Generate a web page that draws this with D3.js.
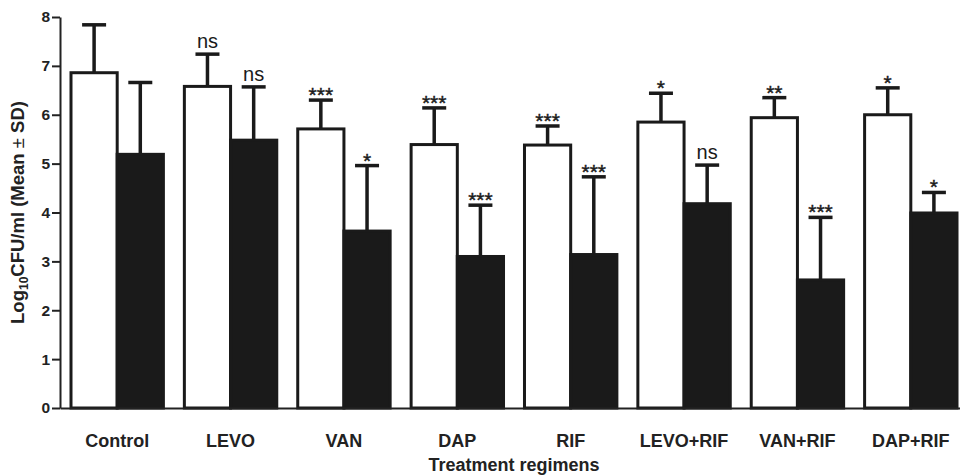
<!DOCTYPE html>
<html>
<head>
<meta charset="utf-8">
<script src="https://cdn.jsdelivr.net/npm/d3@7"></script>
<style>
  body { margin: 0; background: #fff; }
  svg { display: block; font-family: "Liberation Sans", Arial, sans-serif; }
</style>
</head>
<body>
<div id="chart"></div>
<script>
// data
const regimens = ["Control", "LEVO", "VAN", "DAP", "RIF", "LEVO+RIF", "VAN+RIF", "DAP+RIF"];
const openMean = [6.86, 6.58, 5.71, 5.39, 5.38, 5.85, 5.94, 6.00];
const openSD   = [0.98, 0.66, 0.59, 0.75, 0.39, 0.59, 0.41, 0.55];
const filledMean = [5.19, 5.48, 3.62, 3.10, 3.14, 4.18, 2.62, 3.99];
const filledSD   = [1.47, 1.09, 1.34, 1.05, 1.59, 0.79, 1.28, 0.42];
const openSig   = ["", "ns", "***", "***", "***", "*", "**", "*"];
const filledSig = ["", "ns", "*", "***", "***", "ns", "***", "*"];
const yTicks = [0, 1, 2, 3, 4, 5, 6, 7, 8];

const width = 960, height = 475;
const margin = { top: 17, right: -8, bottom: 67, left: 60 };
const ink = "#1a1a1a";

const svg = d3.select("#chart").append("svg")
  .attr("width", width)
  .attr("height", height);

const x = d3.scaleBand()
  .domain(regimens)
  .range([margin.left, width - margin.right])
  .paddingInner(0.185)
  .paddingOuter(0.097);

const sub = d3.scaleBand()
  .domain(["open", "filled"])
  .range([0, x.bandwidth()]);

const y = d3.scaleLinear()
  .domain([0, 8])
  .range([height - margin.bottom, margin.top]);

const rows = regimens.map((r, i) => [
  { regimen: r, kind: "open", mean: openMean[i], sd: openSD[i], sig: openSig[i] },
  { regimen: r, kind: "filled", mean: filledMean[i], sd: filledSD[i], sig: filledSig[i] }
]).flat();

const cx = d => x(d.regimen) + sub(d.kind) + sub.bandwidth() / 2;

// error whiskers (upper only)
const err = svg.append("g").attr("stroke", ink).attr("stroke-width", 3.5);
err.selectAll("line.v")
  .data(rows)
  .join("line")
  .attr("class", "v")
  .attr("x1", cx).attr("x2", cx)
  .attr("y1", d => y(d.mean)).attr("y2", d => y(d.mean + d.sd));
err.selectAll("line.cap")
  .data(rows)
  .join("line")
  .attr("class", "cap")
  .attr("x1", d => cx(d) - 12).attr("x2", d => cx(d) + 12)
  .attr("y1", d => y(d.mean + d.sd)).attr("y2", d => y(d.mean + d.sd));

// bars
svg.append("g")
  .selectAll("rect")
  .data(rows)
  .join("rect")
  .attr("x", d => x(d.regimen) + sub(d.kind))
  .attr("y", d => y(d.mean))
  .attr("width", sub.bandwidth())
  .attr("height", d => y(0) - y(d.mean))
  .attr("fill", d => d.kind === "open" ? "#fff" : ink)
  .attr("stroke", ink)
  .attr("stroke-width", 3);

// significance marks
svg.append("g")
  .selectAll("text")
  .data(rows.filter(d => d.sig))
  .join("text")
  .attr("x", cx)
  .attr("y", d => d.sig === "ns" ? y(d.mean + d.sd) - 6 : y(d.mean + d.sd) + 2)
  .attr("text-anchor", "middle")
  .attr("font-size", d => d.sig === "ns" ? 20 : 21)
  .attr("fill", ink)
  .attr("stroke", d => d.sig === "ns" ? "none" : ink)
  .attr("stroke-width", 0.4)
  .text(d => d.sig);

// y axis
const yAxis = svg.append("g")
  .attr("transform", `translate(${margin.left},0)`)
  .call(d3.axisLeft(y).tickValues(yTicks).tickSize(8).tickPadding(2).tickSizeOuter(0));
yAxis.select(".domain").attr("stroke", "#222").attr("stroke-width", 2);
yAxis.selectAll(".tick line").attr("stroke", "#222").attr("stroke-width", 2);
yAxis.selectAll(".tick text")
  .attr("font-size", 15.5)
  .attr("font-weight", "bold")
  .attr("fill", "#222")
  .attr("font-family", "Liberation Sans, Arial, sans-serif");

// x axis
const xAxis = svg.append("g")
  .attr("transform", `translate(0,${y(0)})`)
  .call(d3.axisBottom(x).tickSize(0).tickPadding(26).tickSizeOuter(0));
xAxis.select(".domain").attr("stroke", "#222").attr("stroke-width", 2);
xAxis.selectAll(".tick text")
  .attr("font-size", 18)
  .attr("font-weight", "bold")
  .attr("fill", "#222")
  .attr("font-family", "Liberation Sans, Arial, sans-serif");

// axis titles
svg.append("text")
  .attr("x", 514)
  .attr("y", 471)
  .attr("text-anchor", "middle")
  .attr("font-size", 18)
  .attr("font-weight", "bold")
  .attr("fill", "#222")
  .text("Treatment regimens");

const yt = svg.append("text")
  .attr("transform", `translate(24,${(y(0) + y(8)) / 2}) rotate(-90)`)
  .attr("text-anchor", "middle")
  .attr("font-size", 18.5)
  .attr("font-weight", "bold")
  .attr("fill", "#222");
yt.append("tspan").text("Log");
yt.append("tspan").attr("font-size", 12).attr("dy", 4).text("10");
yt.append("tspan").attr("dy", -4).text("CFU/ml (Mean ");
yt.append("tspan").attr("font-weight", "normal").text("±");
yt.append("tspan").text(" SD)");
</script>
</body>
</html>
